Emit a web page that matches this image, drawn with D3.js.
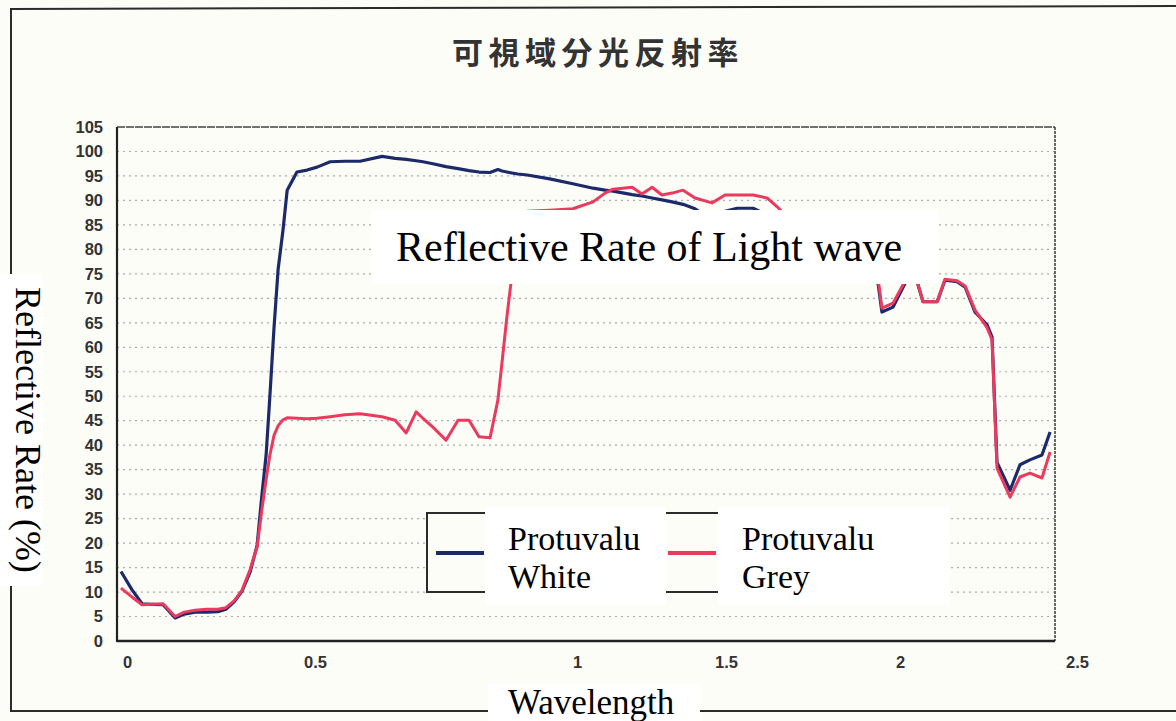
<!DOCTYPE html>
<html><head><meta charset="utf-8">
<script src="https://cdn.jsdelivr.net/npm/d3@7"></script>
<style>html,body{margin:0;padding:0;background:#fdfdf8;} svg{display:block}</style>
</head><body>
<svg id="c" width="1176" height="721"></svg>
<script>
// ---- data ----
const chartTitle = "可視域分光反射率";
const overlayTitle = "Reflective Rate of Light wave";
const yLabel = "Reflective Rate (%)";
const xLabel = "Wavelength";
const seriesNames = [["Protuvalu", "White"], ["Protuvalu", "Grey"]];
const xTicks = [0, 0.5, 1, 1.5, 2, 2.5];
const yTicks = [0, 5, 10, 15, 20, 25, 30, 35, 40, 45, 50, 55, 60, 65, 70, 75, 80, 85, 90, 95, 100, 105];

const wavelength = [-0.016, 0.013, 0.040, 0.066, 0.096, 0.128, 0.152, 0.181, 0.213, 0.242, 0.263, 0.285, 0.306, 0.327, 0.346, 0.359, 0.370, 0.380, 0.391, 0.402, 0.415, 0.426, 0.452, 0.479,
  0.504, 0.529, 0.557, 0.586, 0.628, 0.653, 0.674, 0.693, 0.706, 0.725, 0.750, 0.773, 0.794, 0.813, 0.834, 0.849, 0.857, 0.866, 0.876, 0.887, 0.905, 0.948, 0.992,
  1.054, 1.094, 1.121, 1.185, 1.218, 1.252, 1.285, 1.319, 1.356, 1.396, 1.453, 1.497,
  1.532, 1.578, 1.618, 1.647, 1.684, 1.741, 1.828, 1.899, 1.937, 1.948, 1.980,
  2.014, 2.031, 2.048, 2.065, 2.105, 2.127, 2.161, 2.184, 2.212, 2.246, 2.260, 2.274, 2.311, 2.339, 2.367, 2.401, 2.424];

const white = [14.2, 10.5, 7.6, 7.5, 7.4, 4.7, 5.5, 5.9, 5.9, 6.0, 6.5, 8.0, 10.2, 14.0, 19.5, 30, 38, 50, 64, 76, 84, 92.1, 95.8, 96.2,
  96.8, 97.9, 98.0, 98.0, 99.0, 98.6, 98.4, 98.1, 97.9, 97.5, 96.9, 96.5, 96.1, 95.8, 95.7, 96.3, 96.0, 95.8, 95.6, 95.4, 95.2, 94.4, 93.4,
  92.5, 92.1, 91.9, 91.2, 90.9, 90.5, 90.1, 89.7, 89.2, 88.3, 86.0, 87.8,
  88.4, 88.4, 87.0, 85, 83, 80, 78, 76, 73, 67.2, 68.2,
  73, 76, 73.5, 69.3, 69.3, 73.7, 73.4, 72.3, 67.2, 64.6, 62.1, 36.5, 30.8, 36, 37, 38, 42.7];

const grey = [10.8, 9.0, 7.4, 7.5, 7.6, 5.0, 5.9, 6.3, 6.5, 6.5, 6.8, 8.2, 10.4, 14.5, 19.2, 27, 33, 38, 42, 44, 45.2, 45.6, 45.5, 45.4,
  45.5, 45.8, 46.2, 46.4, 45.8, 45.1, 42.5, 46.8, 45.5, 43.7, 41.0, 45.1, 45.1, 41.7, 41.5, 49.2, 57, 66, 75, 84, 87.8, 88.0, 88.3,
  89.7, 91.5, 92.3, 92.7, 91.3, 92.7, 91.1, 91.5, 92.1, 90.5, 89.5, 91.1,
  91.1, 91.1, 90.5, 88.7, 86, 82, 79, 77, 74, 68, 69,
  73.5, 76, 73.5, 69.3, 69.3, 73.9, 73.6, 72.5, 67.6, 64.0, 61.5, 35.3, 29.4, 33.5, 34.3, 33.3, 38.6];

// ---- layout ----
const svg = d3.select("#c");
const P = {left: 117, right: 1055, top: 127, bottom: 641};
const x = d3.scaleLinear().domain(xTicks).range([127, 315, 577, 726, 900, 1077]);
const y = d3.scaleLinear().domain([0, 105]).range([P.bottom, P.top]);
const ink = "#2b2b2b";
const blue = "#1d2a6a", red = "#ec3a5e";

// outer frame
svg.append("line").attr("x1", 11).attr("y1", 9).attr("x2", 11).attr("y2", 711).attr("stroke", ink).attr("stroke-width", 2);
svg.append("line").attr("x1", 10).attr("y1", 9).attr("x2", 1176).attr("y2", 6).attr("stroke", ink).attr("stroke-width", 2);
svg.append("line").attr("x1", 10).attr("y1", 711).attr("x2", 1176).attr("y2", 711).attr("stroke", ink).attr("stroke-width", 2);

// title
svg.append("text").attr("x", 452).attr("y", 64).text(chartTitle)
  .attr("font-family", "'Noto Sans CJK JP', sans-serif").attr("font-weight", 700)
  .attr("font-size", 31).attr("letter-spacing", 5.5).attr("fill", "#333");

// gridlines
svg.append("g").selectAll("line").data(yTicks.filter(t => t > 0 && t < 105)).join("line")
  .attr("x1", P.left).attr("x2", P.right).attr("y1", d => y(d)).attr("y2", d => y(d))
  .attr("stroke", "#8e8e9a").attr("stroke-width", 1.2).attr("stroke-dasharray", "2,4").attr("opacity", 0.75);

// plot frame
svg.append("line").attr("x1", P.left).attr("x2", P.right).attr("y1", P.top).attr("y2", P.top).attr("stroke", "#444").attr("stroke-width", 1.6).attr("stroke-dasharray", "8,1");
svg.append("line").attr("x1", P.right).attr("x2", P.right).attr("y1", P.top).attr("y2", P.bottom).attr("stroke", "#444").attr("stroke-width", 1.6).attr("stroke-dasharray", "3,1");
svg.append("line").attr("x1", P.left).attr("x2", P.left).attr("y1", P.top).attr("y2", P.bottom + 1).attr("stroke", "#222").attr("stroke-width", 2.2);
svg.append("line").attr("x1", P.left).attr("x2", P.right).attr("y1", P.bottom).attr("y2", P.bottom).attr("stroke", "#222").attr("stroke-width", 2.4);

// axes
const yAx = svg.append("g").attr("transform", `translate(${P.left},0)`)
  .call(d3.axisLeft(y).tickValues(yTicks).tickSize(0).tickPadding(14));
const xAx = svg.append("g").attr("transform", `translate(0,${P.bottom})`)
  .call(d3.axisBottom(x).tickValues(xTicks).tickSize(0).tickPadding(15).tickFormat(d3.format("")));
[yAx, xAx].forEach(g => {
  g.select(".domain").remove();
  g.selectAll("text").attr("font-family", "'Liberation Sans', Arial, sans-serif").attr("font-weight", 700)
    .attr("font-size", 16.5).attr("fill", "#333");
});

// series
const line = d3.line().x((d, i) => x(wavelength[i])).y(d => y(d));
svg.append("path").datum(white).attr("d", line).attr("fill", "none").attr("stroke", blue)
  .attr("stroke-width", 3.2).attr("stroke-linejoin", "round");
svg.append("path").datum(grey).attr("d", line).attr("fill", "none").attr("stroke", red)
  .attr("stroke-width", 3).attr("stroke-linejoin", "round");

// original legend frame + samples
svg.append("rect").attr("x", 427).attr("y", 513).attr("width", 520).attr("height", 79)
  .attr("fill", "#fdfdf8").attr("stroke", ink).attr("stroke-width", 2);
svg.append("line").attr("x1", 436).attr("x2", 484).attr("y1", 553).attr("y2", 553).attr("stroke", blue).attr("stroke-width", 4);
svg.append("line").attr("x1", 668).attr("x2", 716).attr("y1", 553).attr("y2", 553).attr("stroke", red).attr("stroke-width", 4);

// overlay white boxes with text
const serif = "'Liberation Serif', 'Times New Roman', serif";
function box(x0, y0, w, h) {
  svg.append("rect").attr("x", x0).attr("y", y0).attr("width", w).attr("height", h).attr("fill", "#fff");
}
box(372, 210, 566, 74);
svg.append("text").attr("x", 396).attr("y", 261).text(overlayTitle)
  .attr("font-family", serif).attr("font-size", 42).attr("fill", "#000");

box(0, 274, 42, 312);
svg.append("text").attr("transform", "translate(16,287) rotate(90)").text(yLabel)
  .attr("font-family", serif).attr("font-size", 36).attr("fill", "#000");

box(488, 684, 212, 37);
svg.append("text").attr("x", 508).attr("y", 714).text(xLabel)
  .attr("font-family", serif).attr("font-size", 35).attr("fill", "#000");

box(485, 507, 181, 98);
box(718, 507, 232, 98);
const legX = [508, 742];
seriesNames.forEach((lines, k) => {
  lines.forEach((t, j) => {
    svg.append("text").attr("x", legX[k]).attr("y", 550 + j * 38).text(t)
      .attr("font-family", serif).attr("font-size", 34).attr("fill", "#000");
  });
});
</script>
</body></html>
